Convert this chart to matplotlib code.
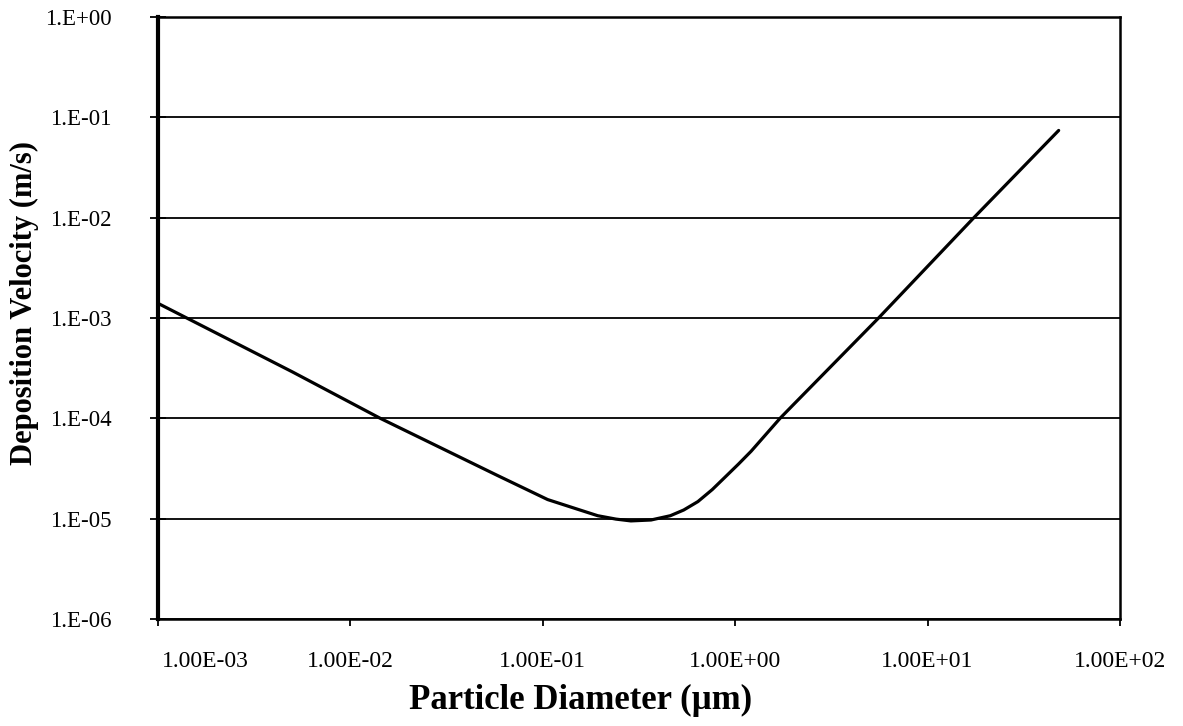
import matplotlib
matplotlib.use("Agg")
import matplotlib.pyplot as plt
import matplotlib.transforms as mtransforms
from matplotlib.ticker import FixedLocator, NullLocator

# particle diameter (um) and deposition velocity (m/s)
diameter = [0.001, 0.005, 0.0143, 0.058, 0.106, 0.15, 0.193, 0.24, 0.287, 0.365,
            0.46, 0.54, 0.64, 0.76, 0.887, 1.04, 1.21, 1.71, 2.0, 5.56, 17.4, 48.0]
velocity = [1.4e-3, 2.9e-4, 1.0e-4, 2.7e-5, 1.55e-5, 1.25e-5, 1.07e-5, 0.99e-5, 0.95e-5, 0.97e-5,
            1.07e-5, 1.22e-5, 1.48e-5, 1.95e-5, 2.6e-5, 3.5e-5, 4.7e-5, 1.0e-4, 1.36e-4,
            1.0e-3, 1.0e-2, 7.4e-2]

x_ticks = [1e-3, 1e-2, 1e-1, 1e0, 1e1, 1e2]
x_tick_labels = ["1.00E-03", "1.00E-02", "1.00E-01", "1.00E+00", "1.00E+01", "1.00E+02"]
y_ticks = [1e-6, 1e-5, 1e-4, 1e-3, 1e-2, 1e-1, 1e0]
y_tick_labels = ["1.E-06", "1.E-05", "1.E-04", "1.E-03", "1.E-02", "1.E-01", "1.E+00"]

plt.rcParams['font.family'] = ['Liberation Serif', 'DejaVu Serif']

fig = plt.figure(figsize=(11.83, 7.26), dpi=100)
ax = fig.add_axes([158 / 1183, 1 - 619 / 726, (1120 - 158) / 1183, (619 - 17) / 726])

ax.plot(diameter, velocity, color='black', lw=2.3, solid_capstyle='round')

ax.set_xscale('log')
ax.set_yscale('log')
ax.set_xlim(1e-3, 1e2)
ax.set_ylim(1e-6, 1e0)

ax.xaxis.set_major_locator(FixedLocator(x_ticks))
ax.xaxis.set_minor_locator(NullLocator())
ax.yaxis.set_major_locator(FixedLocator(y_ticks))
ax.yaxis.set_minor_locator(NullLocator())
ax.set_xticklabels(x_tick_labels)
ax.set_yticklabels(y_tick_labels)

ax.yaxis.grid(True, color='black', lw=1.3)
ax.set_axisbelow(True)

for side in ['top', 'right', 'bottom']:
    ax.spines[side].set_linewidth(1.8)
ax.spines['left'].set_linewidth(3.0)

ax.tick_params(axis='y', direction='inout', length=11, width=1.3,
               pad=28, labelsize=16.5)
ax.tick_params(axis='x', direction='out', length=5, width=1.3,
               pad=18, labelsize=17)

# the first x label sits to the right of its tick in the original
first = ax.get_xticklabels()[0]
first.set_transform(first.get_transform() +
                    mtransforms.ScaledTranslation(47 / 100, 0, fig.dpi_scale_trans))

fig.text(24 / 1183, 1 - 303 / 726, "Deposition Velocity (m/s)", rotation=90,
         ha='center', va='center', fontsize=22, fontweight='bold')
fig.text(581 / 1183, 1 - 700 / 726, "Particle Diameter (\u00b5m)",
         ha='center', va='center', fontsize=25, fontweight='bold')

fig.savefig("out.png", dpi=100)
